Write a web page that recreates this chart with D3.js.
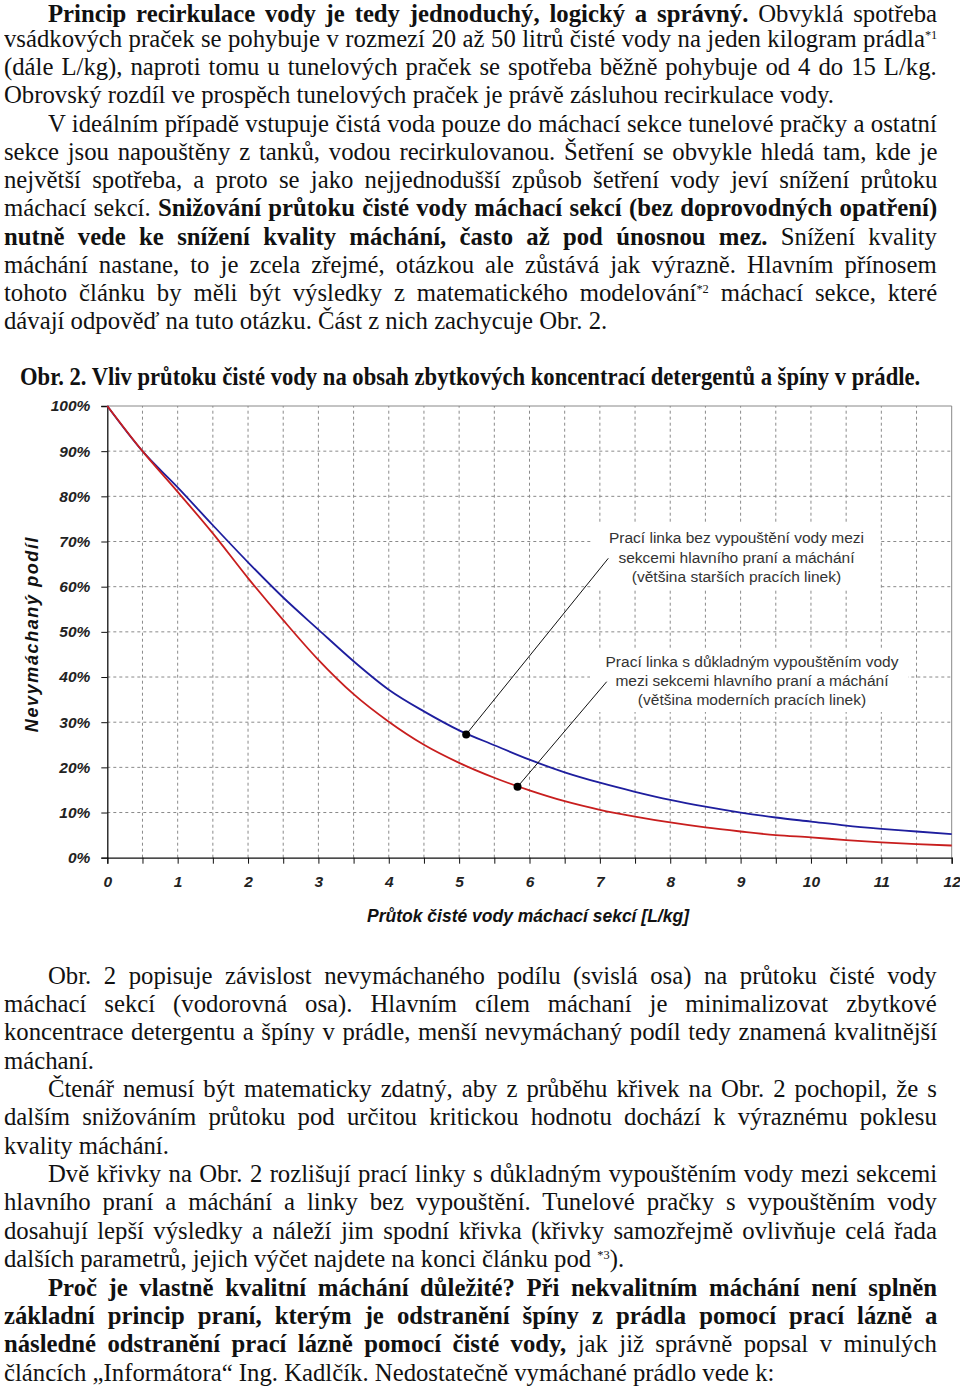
<!DOCTYPE html>
<html><head><meta charset="utf-8">
<script src="https://cdn.jsdelivr.net/npm/d3@7"></script>
<style>
body{margin:0;background:#fff;width:960px;height:1387px;overflow:hidden;position:relative}
#chart{position:absolute;left:0;top:0}
.ln{position:absolute;white-space:nowrap;font-family:"Liberation Serif","Times New Roman",serif;font-size:25px;line-height:20px;height:20px;color:#111;transform-origin:0 50%}
.ln sup{font-size:12.5px;line-height:0;vertical-align:0;position:relative;top:-8px}
</style></head><body>
<svg id="chart" width="960" height="1387"></svg>
<script>
// ---------------- chart data ----------------
const flowValues = [0,0.5,1,1.5,2,2.5,3,3.5,4,4.5,5,5.5,6,6.5,7,7.5,8,8.5,9,9.5,10,10.5,11,11.5,12];
const withoutDrainValues = [100,90,82,73.6,65.4,57.6,50.5,43.5,37.2,32.4,28.2,24.9,21.7,18.9,16.6,14.6,12.8,11.3,10.0,8.9,8.0,7.1,6.4,5.8,5.2];
const withDrainValues = [100,90,81,71.8,61.9,52.6,43.8,36.2,30.1,25.0,21.0,17.7,14.9,12.5,10.6,9.1,7.8,6.7,5.8,5.0,4.5,3.9,3.4,3.0,2.7];
const yTickValues = [0,10,20,30,40,50,60,70,80,90,100];
const yTickLabels = ["0%","10%","20%","30%","40%","50%","60%","70%","80%","90%","100%"];
const xTickValues = [0,1,2,3,4,5,6,7,8,9,10,11,12];
const xTickLabels = ["0","1","2","3","4","5","6","7","8","9","10","11","12"];
const xMinorTicks = [0,0.5,1,1.5,2,2.5,3,3.5,4,4.5,5,5.5,6,6.5,7,7.5,8,8.5,9,9.5,10,10.5,11,11.5,12];
const markerX = [5.1, 5.83];
const markerY = [27.3, 15.7];
const noteLines1 = ["Prací linka bez vypouštění vody mezi","sekcemi hlavního praní a máchání","(většina starších pracích linek)"];
const noteLines2 = ["Prací linka s důkladným vypouštěním vody","mezi sekcemi hlavního praní a máchání","(většina moderních pracích linek)"];
const xTitle = "Průtok čisté vody máchací sekcí [L/kg]";
const yTitle = "Nevymáchaný podíl";

// ---------------- chart ----------------
const svg = d3.select("#chart");
const x = d3.scaleLinear().domain([0,12]).range([107.3,951.7]);
const y = d3.scaleLinear().domain([0,100]).range([857.7,406]);
const g = svg.append("g");
const grid = "#8a8a8a";

g.selectAll(".hg").data(yTickValues.filter(v=>v>0&&v<100)).enter().append("line")
 .attr("x1",x(0)).attr("x2",x(12)).attr("y1",d=>y(d)).attr("y2",d=>y(d))
 .attr("stroke",grid).attr("stroke-width",1).attr("stroke-dasharray","3,3");
g.selectAll(".vg").data(xMinorTicks.filter(v=>v>0&&v<12)).enter().append("line")
 .attr("x1",d=>x(d)).attr("x2",d=>x(d)).attr("y1",y(0)).attr("y2",y(100))
 .attr("stroke",grid).attr("stroke-width",1).attr("stroke-dasharray","3,3");
g.append("line").attr("x1",x(0)).attr("x2",x(12)).attr("y1",y(100)).attr("y2",y(100)).attr("stroke","#888").attr("stroke-width",1);
g.append("line").attr("x1",x(12)).attr("x2",x(12)).attr("y1",y(100)).attr("y2",y(0)).attr("stroke","#888").attr("stroke-width",1);

g.append("rect").attr("x",592).attr("y",522).attr("width",288).attr("height",68).attr("fill","#fff");
g.append("rect").attr("x",590).attr("y",648).attr("width",318).attr("height",64).attr("fill","#fff");

const yAxis = d3.axisLeft(y).tickValues(yTickValues).tickFormat((d,i)=>yTickLabels[i]).tickSize(6).tickPadding(11);
const xAxis = d3.axisBottom(x).tickValues(xMinorTicks).tickFormat(d=>{const i=xTickValues.indexOf(d);return i>=0?xTickLabels[i]:"";}).tickSize(6).tickPadding(12);
const ya = svg.append("g").attr("transform",`translate(${x(0)},0)`).call(yAxis);
const xa = svg.append("g").attr("transform",`translate(0,${y(0)})`).call(xAxis);
[ya,xa].forEach(a=>{
  a.select(".domain").attr("stroke","#111").attr("stroke-width",1.3);
  a.selectAll(".tick line").attr("stroke","#111").attr("stroke-width",1);
  a.selectAll(".tick text").attr("font-family","'Liberation Sans',Arial,sans-serif").attr("font-size",15.5)
   .attr("font-weight","bold").attr("font-style","italic").attr("fill","#222");
});
xa.selectAll(".tick text").attr("dy","0.71em");

const line = d3.line().x((d,i)=>x(flowValues[i])).y(d=>y(d)).curve(d3.curveMonotoneX);
svg.append("path").datum(withoutDrainValues).attr("d",line).attr("fill","none").attr("stroke","#1e1e9e").attr("stroke-width",1.8);
svg.append("path").datum(withDrainValues).attr("d",line).attr("fill","none").attr("stroke","#c81e1e").attr("stroke-width",1.8);

const leaderEnds = [[608.3,558.3],[606.7,681.7]];
markerX.forEach((mx,i)=>{
  svg.append("line").attr("x1",x(mx)).attr("y1",y(markerY[i])).attr("x2",leaderEnds[i][0]).attr("y2",leaderEnds[i][1])
    .attr("stroke","#111").attr("stroke-width",1);
  svg.append("circle").attr("cx",x(mx)).attr("cy",y(markerY[i])).attr("r",4).attr("fill","#000");
});

function note(lines,cx,cy0){
  const t = svg.append("text").attr("font-family","'Liberation Sans',Arial,sans-serif").attr("font-size",15.5)
   .attr("fill","#333").attr("text-anchor","middle");
  lines.forEach((s,i)=>t.append("tspan").attr("x",cx).attr("y",cy0+i*19.2).attr("dy","0.35em").text(s));
}
note(noteLines1,736.5,538);
note(noteLines2,752,661.5);

svg.append("text").attr("x",528).attr("y",916).attr("dy","0.35em").attr("text-anchor","middle")
 .attr("font-family","'Liberation Sans',Arial,sans-serif").attr("font-size",17.5).attr("font-weight","bold").attr("font-style","italic")
 .attr("fill","#111").text(xTitle);
svg.append("text").attr("transform","translate(32,634) rotate(-90)").attr("dy","0.35em").attr("text-anchor","middle")
 .attr("font-family","'Liberation Sans',Arial,sans-serif").attr("font-size",18).attr("font-weight","bold").attr("font-style","italic")
 .attr("letter-spacing",1.6).attr("fill","#111").text(yTitle);

// ---------------- body text ----------------
const topLines = [
 [48,true,"<b>Princip recirkulace vody je tedy jednoduchý, logický a správný.</b> Obvyklá spotřeba"],
 [4,true,"vsádkových praček se pohybuje v rozmezí 20 až 50 litrů čisté vody na jeden kilogram prádla<sup>*1</sup>"],
 [4,true,"(dále L/kg), naproti tomu u tunelových praček se spotřeba běžně pohybuje od 4 do 15 L/kg."],
 [4,false,"Obrovský rozdíl ve prospěch tunelových praček je právě zásluhou recirkulace vody."],
 [48,true,"V ideálním případě vstupuje čistá voda pouze do máchací sekce tunelové pračky a ostatní"],
 [4,true,"sekce jsou napouštěny z tanků, vodou recirkulovanou. Šetření se obvykle hledá tam, kde je"],
 [4,true,"největší spotřeba, a proto se jako nejjednodušší způsob šetření vody jeví snížení průtoku"],
 [4,true,"máchací sekcí. <b>Snižování průtoku čisté vody máchací sekcí (bez doprovodných opatření)</b>"],
 [4,true,"<b>nutně vede ke snížení kvality máchání, často až pod únosnou mez.</b> Snížení kvality"],
 [4,true,"máchání nastane, to je zcela zřejmé, otázkou ale zůstává jak výrazně. Hlavním přínosem"],
 [4,true,"tohoto článku by měli být výsledky z matematického modelování<sup>*2</sup> máchací sekce, které"],
 [4,false,"dávají odpověď na tuto otázku. Část z nich zachycuje Obr. 2."]
];
const bottomLines = [
 [48,true,"Obr. 2 popisuje závislost nevymáchaného podílu (svislá osa) na průtoku čisté vody"],
 [4,true,"máchací sekcí (vodorovná osa). Hlavním cílem máchaní je minimalizovat zbytkové"],
 [4,true,"koncentrace detergentu a špíny v prádle, menší nevymáchaný podíl tedy znamená kvalitnější"],
 [4,false,"máchaní."],
 [48,true,"Čtenář nemusí být matematicky zdatný, aby z průběhu křivek na Obr. 2 pochopil, že s"],
 [4,true,"dalším snižováním průtoku pod určitou kritickou hodnotu dochází k výraznému poklesu"],
 [4,false,"kvality máchání."],
 [48,true,"Dvě křivky na Obr. 2 rozlišují prací linky s důkladným vypouštěním vody mezi sekcemi"],
 [4,true,"hlavního praní a máchání a linky bez vypouštění. Tunelové pračky s vypouštěním vody"],
 [4,true,"dosahují lepší výsledky a náleží jim spodní křivka (křivky samozřejmě ovlivňuje celá řada"],
 [4,false,"dalších parametrů, jejich výčet najdete na konci článku pod <sup>*3</sup>)."],
 [48,true,"<b>Proč je vlastně kvalitní máchání důležité? Při nekvalitním máchání není splněn</b>"],
 [4,true,"<b>základní princip praní, kterým je odstranění špíny z prádla pomocí prací lázně a</b>"],
 [4,true,"<b>následné odstranění prací lázně pomocí čisté vody,</b> jak již správně popsal v minulých"],
 [4,false,"článcích „Informátora“ Ing. Kadlčík. Nedostatečně vymáchané prádlo vede k:"]
];
const caption = "<b>Obr. 2. Vliv průtoku čisté vody na obsah zbytkových koncentrací detergentů a špíny v prádle.</b>";

const FS = 25, LH = 20;
const baseOff = (LH - 1.107*FS)/2 + 0.891*FS;
const body = d3.select("body");
function addLine(xl,baseline,html){
  return body.append("div").attr("class","ln").style("left",xl+"px").style("top",(baseline-baseOff)+"px").html(html).node();
}
const all = [];
topLines.forEach((l,i)=>all.push({x:l[0],j:l[1],el:addLine(l[0],i===0?22.6:19.2+28.22*i,l[2]),right:937}));
const capEl = addLine(20,385,caption);
bottomLines.forEach((l,i)=>all.push({x:l[0],j:l[1],el:addLine(l[0],984+28.36*i,l[2]),right:937}));
const refW = all[3].el.offsetWidth;
const sx = 830/refW;
all.forEach(o=>{
  o.el.style.transform = `scaleX(${sx})`;
  if(o.j){
    const w = o.el.offsetWidth;
    const n = (o.el.textContent.match(/ /g)||[]).length;
    const target = (o.right - o.x)/sx;
    if(n>0) o.el.style.wordSpacing = ((target-w)/n)+"px";
  }
});
capEl.style.transform = `scaleX(${900/capEl.offsetWidth})`;
</script>
</body></html>
